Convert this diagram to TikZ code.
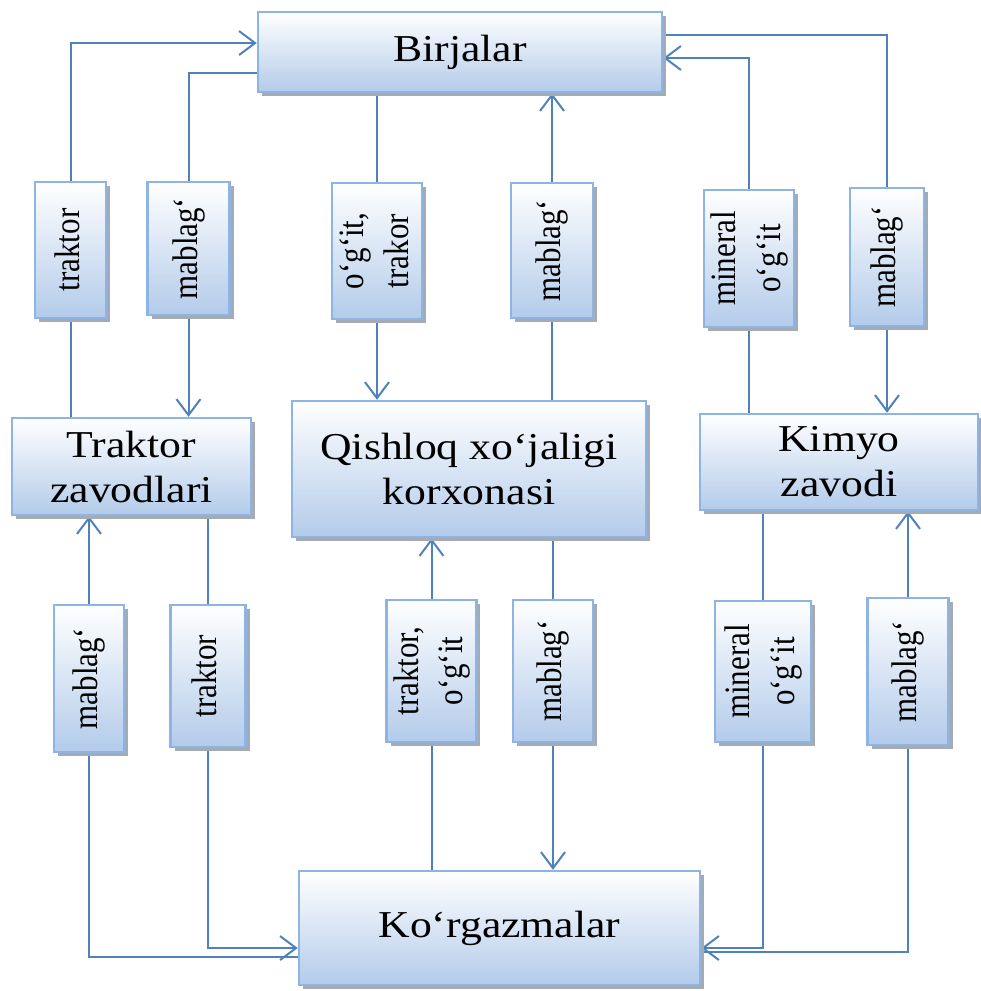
\documentclass[tikz,border=0pt]{standalone}
\usepackage{fontspec}
\usepackage{graphicx}
\setmainfont{Liberation Serif}
\newfontfamily\boxfont{Liberation Serif}[FakeStretch=1.15]
\usetikzlibrary{arrows.meta,shadows}

\definecolor{linkblue}{HTML}{4F81BD}
\definecolor{edgeblue}{HTML}{8EB4E3}
\definecolor{fillblue}{HTML}{B3CBEA}
\definecolor{shadowgray}{HTML}{A5ABB4}

\pgfdeclarelayer{back}
\pgfsetlayers{back,main}

\newcommand{\sidetext}[1]{\rotatebox{90}{\scalebox{1}[1.15]{\begin{tabular}{@{}c@{}}#1\end{tabular}}}}

\begin{document}
\begin{tikzpicture}[x=1pt,y=-1pt,
    box/.style={draw=edgeblue, line width=2.5pt, top color=white, bottom color=fillblue,
      drop shadow={shadow xshift=4pt, shadow yshift=-4pt, fill=shadowgray, opacity=1},
      inner sep=0pt, align=center},
    bigbox/.style={box, font=\boxfont\fontsize{38}{45}\selectfont},
    tag/.style={box, font=\fontsize{31}{39}\selectfont},
    flow/.style={draw=linkblue, line width=2pt},
    feed/.style={flow, -{Straight Barb[length=16pt,width=24pt]}}]

    \useasboundingbox (0,0) rectangle (981,991);

    % --- Main Boxes ---

    % Birjalar at the top
    \node[bigbox, minimum width=404pt, minimum height=80pt] (B) at (460,52) {Birjalar};

    % Traktor zavodlari on the left
    \node[bigbox, minimum width=239pt, minimum height=97pt] (TZ) at (131.5,466.5) {Traktor\\zavodlari};

    % Qishloq xo'jaligi korxonasi in the middle
    \node[bigbox, minimum width=354pt, minimum height=136pt] (QX) at (469,469) {Qishloq xo‘jaligi\\korxonasi};

    % Kimyo zavodi on the right
    \node[bigbox, minimum width=278pt, minimum height=96pt] (KZ) at (839,462) {Kimyo\\zavodi};

    % Ko'rgazmalar at the bottom
    \node[bigbox, minimum width=401pt, minimum height=114pt] (KG) at (499.5,928) {Ko‘rgazmalar};

    % --- Upper Labels ---
    \node[tag, minimum width=71pt, minimum height=136pt] (L1) at (70.5,250) {\sidetext{traktor}};
    \node[tag, minimum width=82pt, minimum height=133pt] (L2) at (188.5,248.5) {\sidetext{mablag‘}};
    \node[tag, minimum width=85pt, minimum height=136pt] (L3) at (377,251) {\sidetext{o‘g‘it,\\trakor}};
    \node[tag, minimum width=82pt, minimum height=135pt] (L4) at (552,250.5) {\sidetext{mablag‘}};
    \node[tag, minimum width=89pt, minimum height=137pt] (L5) at (749,258.5) {\sidetext{mineral\\o‘g‘it}};
    \node[tag, minimum width=74pt, minimum height=138pt] (L6) at (887,257) {\sidetext{mablag‘}};

    % --- Lower Labels ---
    \node[tag, minimum width=70pt, minimum height=147pt] (L7) at (89,678.5) {\sidetext{mablag‘}};
    \node[tag, minimum width=75pt, minimum height=142pt] (L8) at (208,676) {\sidetext{traktor}};
    \node[tag, minimum width=87pt, minimum height=142pt] (L9) at (431.5,671) {\sidetext{traktor,\\o‘g‘it}};
    \node[tag, minimum width=80pt, minimum height=142pt] (L10) at (553,671) {\sidetext{mablag‘}};
    \node[tag, minimum width=96pt, minimum height=141pt] (L11) at (763,671.5) {\sidetext{mineral\\o‘g‘it}};
    \node[tag, minimum width=81pt, minimum height=147pt] (L12) at (908,671.5) {\sidetext{mablag‘}};

    % --- Connectors (behind the boxes) ---
    \begin{pgfonlayer}{back}
    % upper flows
    \draw[feed] (TZ.north -| L1) |- ([yshift=9pt]B.west);
    \draw[feed] ([yshift=-21pt]B.west) -| (TZ.north -| L2);
    \draw[feed] (B.south -| L3) -- (QX.north -| L3);
    \draw[feed] (QX.north -| L4) -- (B.south -| L4);
    \draw[feed] (KZ.north -| L5) |- ([yshift=-6pt]B.east);
    \draw[feed] ([yshift=17pt]B.east) -| (KZ.north -| L6);

    % lower flows
    \draw[feed] ([yshift=-29pt]KG.west) -| (TZ.south -| L7);
    \draw[feed] (TZ.south -| L8) |- ([yshift=-20pt]KG.west);
    \draw[feed] (KG.north -| L9) -- (QX.south -| L9);
    \draw[feed] (QX.south -| L10) -- (KG.north -| L10);
    \draw[feed] (KZ.south -| L11) |- ([yshift=-20pt]KG.east);
    \draw[feed] ([yshift=-24pt]KG.east) -| (KZ.south -| L12);
    \end{pgfonlayer}

\end{tikzpicture}
\end{document}
